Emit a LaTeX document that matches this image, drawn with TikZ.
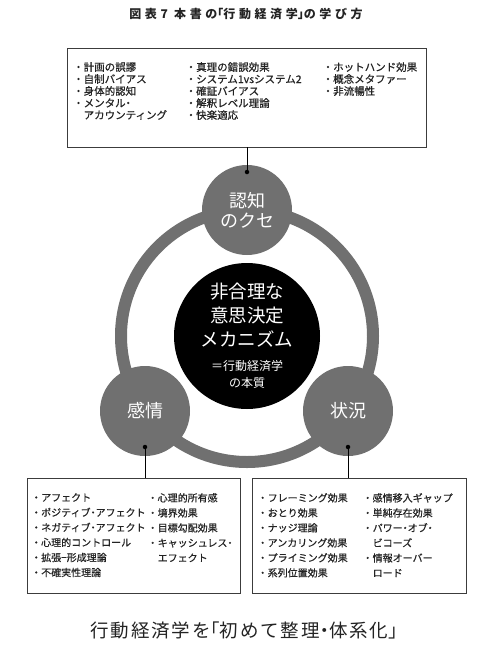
\documentclass[tikz,border=0pt]{standalone}
\usepackage{fontspec}
\setmainfont{Noto Sans CJK JP}
\newfontfamily\listfont{Noto Sans CJK JP}[FakeBold=0.6]
\usepackage{xcolor}
\usepackage{tikz}
\usetikzlibrary{positioning, calc}
\definecolor{ringgray}{RGB}{112, 112, 112}
\definecolor{textgray}{RGB}{35, 35, 35}
\definecolor{boxgray}{RGB}{60, 60, 60}
\newcommand{\nkg}{\makebox[0.5em][c]{・}}
\newcommand{\kopen}{\makebox[0.5em][r]{「}}
\newcommand{\kclose}{\makebox[0.5em][l]{」}}

\begin{document}
\begin{tikzpicture}[
    x=1pt, y=-1pt,
    factor/.style={circle, fill=ringgray, minimum size=90pt, inner sep=0pt,
                   text=white, font=\fontsize{18}{20}\selectfont, align=center},
    core/.style={circle, fill=black, minimum size=146pt, inner sep=0pt,
                 text=white, font=\fontsize{18.5}{24}\selectfont, align=center},
    listbox/.style={draw=boxgray, line width=0.9pt, inner sep=0pt},
    items/.style={anchor=north west, inner sep=0pt, align=left,
                  text=textgray, font=\listfont\fontsize{10.5}{12}\selectfont},
    lowitems/.style={items, font=\listfont\fontsize{10}{15}\selectfont},
    dot/.style={circle, fill=black, minimum size=4.5pt, inner sep=0pt},
    conn/.style={line width=0.8pt, black},
]
    \useasboundingbox (0,0) rectangle (482,659);

    \node[text=textgray, font=\bfseries\fontsize{12}{14}\selectfont\addfontfeature{LetterSpace=30}] (t1) at (246,14) {図表7 本書の\kopen 行動経済学\kclose の学び方};

    \draw[ringgray, line width=12pt] (247,336) circle (126pt);

    \node[core] (n0) at (247,336) {非合理な\\意思決定\\メカニズム\\{\fontsize{12}{18}\selectfont ＝行動経済学}\\[-7pt]{\fontsize{12}{18}\selectfont の本質}};
    \node[factor] (n1) at (247,210) {認知\\のクセ};
    \node[factor] (n2) at (145,411) {感情};
    \node[factor] (n3) at (348,411) {状況};

    \node[dot] (d1) at (247,172) {};
    \node[dot] (d2) at (145,447) {};
    \node[dot] (d3) at (348,447) {};

    \node[listbox, minimum width=359pt, minimum height=99pt] (b1) at (246.5,97.5) {};
    \node[listbox, minimum width=213pt, minimum height=115pt] (b2) at (133.5,535.5) {};
    \node[listbox, minimum width=214pt, minimum height=115pt] (b3) at (359,535.5) {};

    \node[items] (l1) at (73,62) {・計画の誤謬\\・自制バイアス\\・身体的認知\\・メンタル\nkg\\　アカウンティング};
    \node[items] (l2) at (185.5,62) {・真理の錯誤効果\\・システム1vsシステム2\\・確証バイアス\\・解釈レベル理論\\・快楽適応};
    \node[items] (l3) at (322.5,62) {・ホットハンド効果\\・概念メタファー\\・非流暢性};

    \node[lowitems] (l4) at (31,493) {・アフェクト\\・ポジティブ\nkg アフェクト\\・ネガティブ\nkg アフェクト\\・心理的コントロール\\・拡張−形成理論\\・不確実性理論};
    \node[lowitems] (l5) at (147.5,493) {・心理的所有感\\・境界効果\\・目標勾配効果\\・キャッシュレス\nkg\\　エフェクト};

    \node[lowitems] (l6) at (257.5,493) {・フレーミング効果\\・おとり効果\\・ナッジ理論\\・アンカリング効果\\・プライミング効果\\・系列位置効果};
    \node[lowitems] (l7) at (362.5,493) {・感情移入ギャップ\\・単純存在効果\\・パワー\nkg オブ\nkg\\　ビコーズ\\・情報オーバー\\　ロード};

    \draw[conn] (b1.south -| d1) -- (d1);
    \draw[conn] (d2) -- (b2.north -| d2);
    \draw[conn] (d3) -- (b3.north -| d3);

    \node[text=textgray, font=\fontsize{18.5}{20}\selectfont\addfontfeature{LetterSpace=10}] (t2) at (244,630) {行動経済学を\kopen 初めて整理\nkg 体系化\kclose};
\end{tikzpicture}
\end{document}
